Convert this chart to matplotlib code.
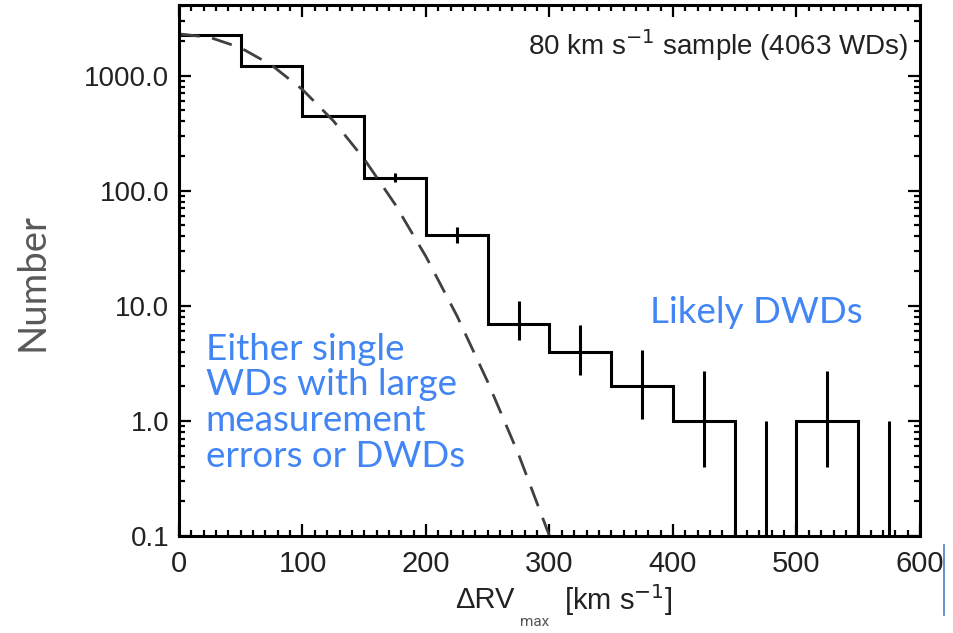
import numpy as np
import matplotlib
matplotlib.use("Agg")
import matplotlib.pyplot as plt
from matplotlib.lines import Line2D

# histogram of delta RV_max (bin edges in km/s) and counts
bin_edges = [0, 50, 100, 150, 200, 250, 300, 350, 400, 450, 500, 550, 600]
counts = [2230, 1205, 443, 129, 41, 7, 4, 2, 1, 0, 1, 0]

# error bars (bin centre, lower, upper)
err_x = [175, 225, 275, 325, 375, 425, 475, 525, 575]
err_lo = [118, 35, 5.0, 2.5, 1.04, 0.4, 0, 0.4, 0]
err_hi = [141, 48, 11.0, 6.8, 4.1, 2.7, 1.0, 2.7, 1.0]

# dashed model curve
model_x = [0, 25, 50, 75, 100, 125, 150, 175, 200, 225, 250, 275, 300]
model_y = [2300, 2145, 1740, 1230, 755, 404, 188, 76, 26.7, 8.2, 2.18, 0.51, 0.10]

xticks = [0, 100, 200, 300, 400, 500, 600]
yticks = [0.1, 1, 10, 100, 1000]
ytick_labels = ['0.1', '1.0', '10.0', '100.0', '1000.0']

W, H = 954, 633
fig = plt.figure(figsize=(W/100, H/100), dpi=100)
ax = fig.add_axes([179/W, 1-536/H, 741/W, 531/H])

ax.set_yscale('log')
ax.stairs(counts, bin_edges, baseline=None, color='black', lw=2.2)
ax.vlines(err_x, err_lo, err_hi, color='black', lw=2.2)
ax.plot(model_x, model_y, color='#404040', lw=2.0, dashes=(7.5, 4.5))

ax.set_xlim(0, 600)
ax.set_ylim(0.1, 4100)

num_font = ['Liberation Sans', 'DejaVu Sans']

ax.set_xticks(xticks)
ax.set_xticklabels([str(v) for v in xticks], fontsize=21, family=num_font)
ax.set_xticks(np.arange(0, 601, 10), minor=True)
ax.set_yticks(yticks)
ax.set_yticklabels(ytick_labels, fontsize=20, family=num_font, color='#222222')
for lab in ax.get_xticklabels():
    lab.set_color('#222222')

ax.tick_params(which='both', direction='in', top=True, right=True, width=1.6)
ax.tick_params(which='major', length=8.5)
ax.tick_params(which='minor', length=4.5)
ax.tick_params(axis='y', which='major', pad=7)
ax.tick_params(axis='x', which='major', pad=10)
for s in ax.spines.values():
    s.set_linewidth(2.2)

ax.text(0.984, 0.925, '80 km s$^{-1}$ sample (4063 WDs)', transform=ax.transAxes,
        ha='right', va='center', fontsize=20, family=num_font, color='#222222')

blue = '#4285f4'
ax.text(0.036, 0.383, 'Either single\nWDs with large\nmeasurement\nerrors or DWDs',
        transform=ax.transAxes, ha='left', va='top', fontsize=26.5, family='Lato',
        color=blue, linespacing=1.1)
ax.text(0.779, 0.42, 'Likely DWDs', transform=ax.transAxes, ha='center',
        va='center', fontsize=26.5, family='Lato', color=blue)

fig.text(33/W, 1-282/H, 'Number', rotation=90, ha='center', va='center',
         fontsize=27.5, family='Lato', color='#595959')
fig.text(485/W, 1-600/H, '\u0394RV', ha='center', va='center', fontsize=21,
         family=num_font, color='#222222')
fig.text(618/W, 1-600/H, '[km s$^{-1}$]', ha='center', va='center', fontsize=21,
         family=num_font, color='#222222')
fig.text(535/W, 1-622/H, 'max', ha='center', va='center', fontsize=11,
         family='Roboto', color='#555555')

fig.add_artist(Line2D([944/W, 944/W], [1-545/H, 1-615/H], color='#4a7ad0', lw=1.2))

fig.savefig('out.png', dpi=100)
